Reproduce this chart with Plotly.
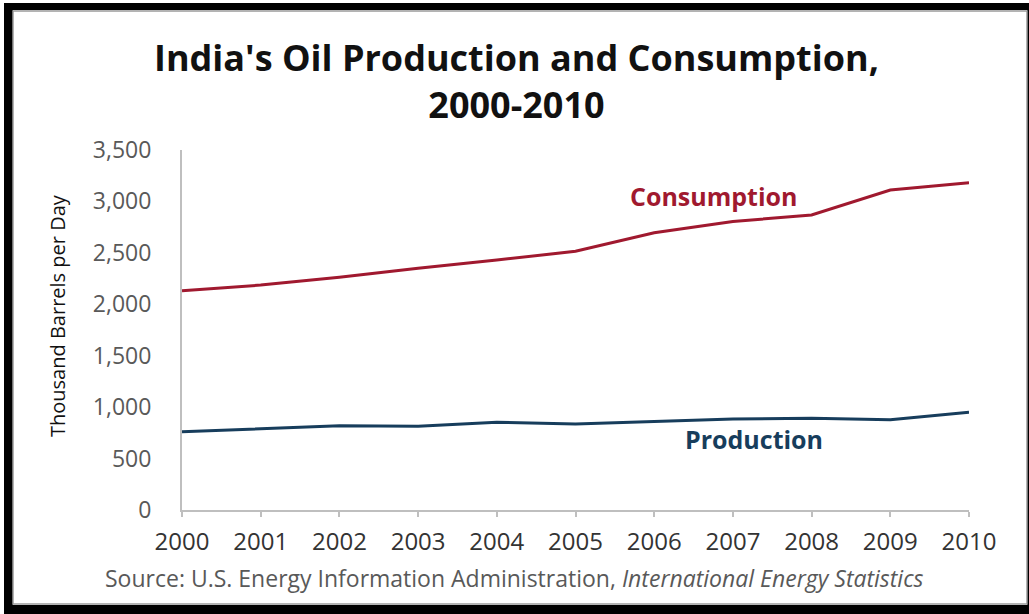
import plotly.graph_objects as go

# India oil balance, thousand barrels per day
years = [2000, 2001, 2002, 2003, 2004, 2005, 2006, 2007, 2008, 2009, 2010]
consumption = [2132, 2187, 2262, 2350, 2430, 2515, 2695, 2805, 2868, 3111, 3182]
production = [761, 794, 820, 815, 853, 836, 862, 885, 891, 878, 950]

y_ticks = [0, 500, 1000, 1500, 2000, 2500, 3000, 3500]
y_tick_labels = ["0", "500", "1,000", "1,500", "2,000", "2,500", "3,000", "3,500"]

W, H = 1029, 614
ML, MR, MT, MB = 182, 60, 150, 104
PW, PH = W - ML - MR, H - MT - MB

FONT = "Open Sans"
RED = "#A0192F"
NAVY = "#173D5C"
GREY_TXT = "#595959"


def px_x(p):
    return (p - ML) / PW


def px_y(p):
    return (H - MB - p) / PH


fig = go.Figure()
fig.add_trace(go.Scatter(x=years, y=consumption, mode="lines",
                         line=dict(color=RED, width=3), name="Consumption",
                         hoverinfo="x+y"))
fig.add_trace(go.Scatter(x=years, y=production, mode="lines",
                         line=dict(color=NAVY, width=3), name="Production",
                         hoverinfo="x+y"))

# black frame with thin grey inner edge
frame = [
    (4, 3, 13, 614),
    (4, 3, 1029, 10),
    (4, 605, 1029, 614),
    (1027, 3, 1029, 614),
]
shapes = []
for x0, y0, x1, y1 in frame:
    shapes.append(dict(type="rect", xref="paper", yref="paper",
                       x0=px_x(x0), x1=px_x(x1), y0=px_y(y1), y1=px_y(y0),
                       fillcolor="black", line=dict(width=0), layer="above"))
shapes.append(dict(type="rect", xref="paper", yref="paper",
                   x0=px_x(13), x1=px_x(1027), y0=px_y(604), y1=px_y(11),
                   fillcolor="rgba(0,0,0,0)", line=dict(color="#9a9a9a", width=1.5)))

annotations = [
    dict(text="<b>India's Oil Production and Consumption,</b><br><b>2000-2010</b>",
         xref="paper", yref="paper", x=px_x(516), y=px_y(81), xanchor="center",
         yanchor="middle", showarrow=False,
         font=dict(family=FONT, size=36, color="#111111")),
    dict(text="Thousand Barrels per Day", xref="paper", yref="paper",
         x=px_x(57), y=px_y(316), textangle=-90, xanchor="center", yanchor="middle",
         showarrow=False, font=dict(family=FONT, size=20, color="#111111")),
    dict(text="Source: U.S. Energy Information Administration, <i>International Energy Statistics</i>",
         xref="paper", yref="paper", x=px_x(514), y=px_y(578), xanchor="center",
         yanchor="middle", showarrow=False,
         font=dict(family=FONT, size=23, color=GREY_TXT)),
    dict(text="<b>Consumption</b>", x=2006.75, y=3053, xref="x", yref="y",
         showarrow=False, font=dict(family=FONT, size=25, color=RED)),
    dict(text="<b>Production</b>", x=2007.27, y=690, xref="x", yref="y",
         showarrow=False, font=dict(family=FONT, size=25, color=NAVY)),
]

fig.update_layout(
    width=W, height=H,
    margin=dict(l=ML, r=MR, t=MT, b=MB),
    paper_bgcolor="white", plot_bgcolor="white",
    showlegend=False,
    shapes=shapes,
    annotations=annotations,
    xaxis=dict(range=[2000, 2010], tickmode="array", tickvals=years,
               ticktext=[str(y) for y in years],
               showgrid=False, zeroline=False, showline=True,
               linecolor="#BFBFBF", linewidth=2, ticks="outside", ticklen=5,
               tickcolor="#BFBFBF", tickwidth=2, ticklabelstandoff=4,
               tickfont=dict(family=FONT, size=24, color="#333333")),
    yaxis=dict(range=[0, 3500], tickmode="array", tickvals=y_ticks,
               ticktext=y_tick_labels, showgrid=False, zeroline=False,
               showline=True, linecolor="#BFBFBF", linewidth=2, ticks="",
               ticklabelstandoff=24,
               tickfont=dict(family=FONT, size=23, color=GREY_TXT)),
)

fig.write_html("out.html")
